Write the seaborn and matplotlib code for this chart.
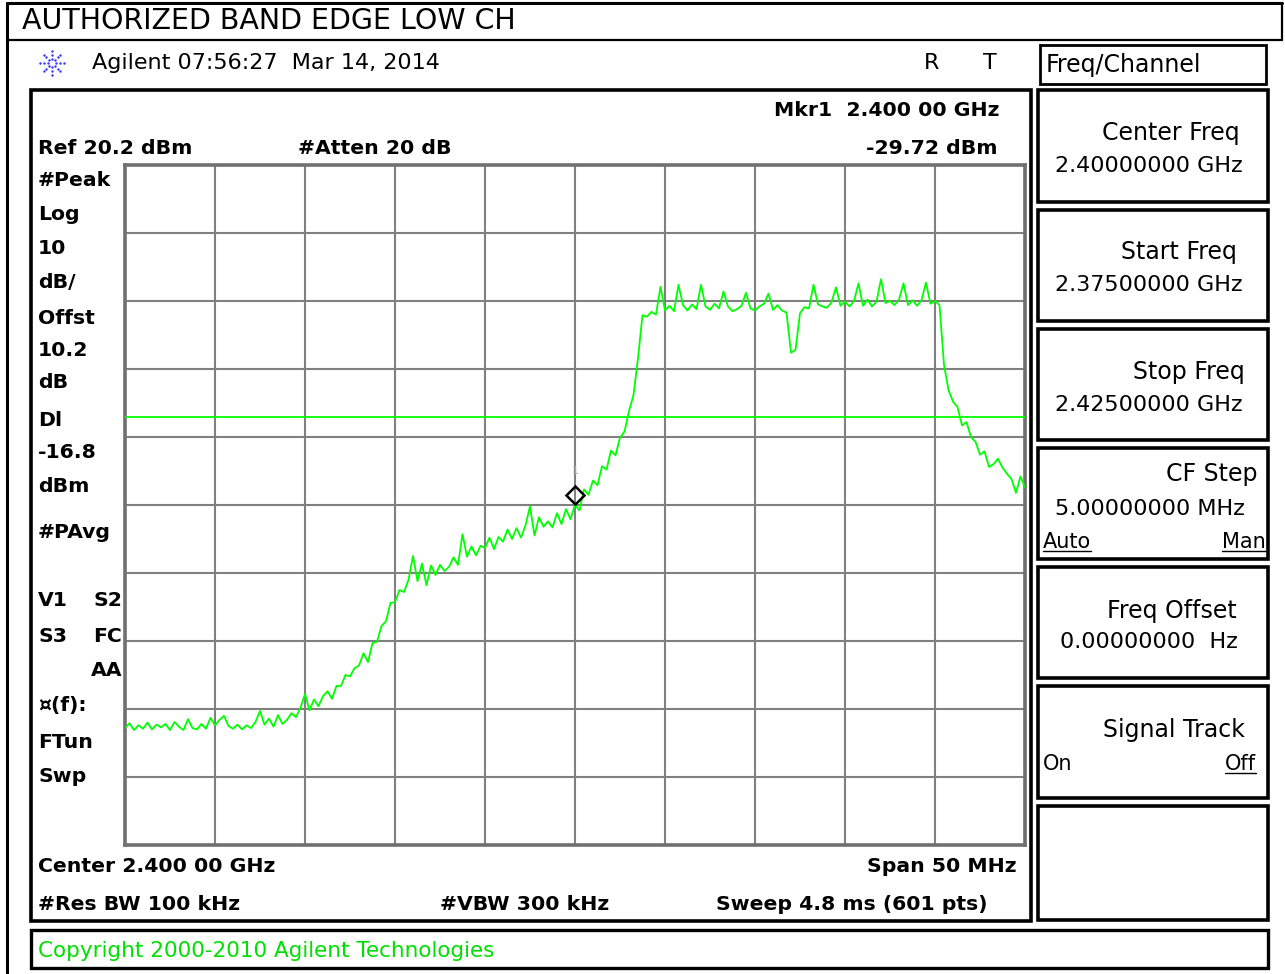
import numpy as np
import pandas as pd
import matplotlib
matplotlib.use("Agg")
import matplotlib.pyplot as plt
import matplotlib.transforms as mtransforms
from matplotlib.patches import Rectangle
import seaborn as sns

# ---------------- sweep settings ----------------
start_mhz = 2375.0
stop_mhz = 2425.0
ref_level_dbm = 20.2
db_per_div = 10.0
n_divs = 10
display_line_dbm = -16.8
marker_freq_mhz = 2400.0
marker_level_dbm = -29.72

# Peak trace (dBm), 201 samples evenly spread over the span
trace_dbm = [
    -62.6, -61.9, -62.9, -62.2,  -62.7, -61.8, -62.8, -62.1,
    -62.5, -62.0, -62.9, -61.7,  -62.4, -62.9, -61.3, -62.6,
    -62.8, -62.0, -62.7, -61.1,  -62.2, -61.4, -60.8, -62.3,
    -62.7, -62.1, -62.8, -62.2,  -62.6, -61.7, -60.1, -62.1,
    -61.2, -62.4, -60.7, -62.0,  -61.4, -60.4, -61.0, -59.6,
    -57.6, -60.0, -58.4, -59.4,  -57.9, -57.2, -58.3, -56.4,
    -56.4, -54.8, -55.0, -53.8,  -53.4, -51.6, -52.9, -50.1,
    -49.9, -47.6, -46.9, -44.2,  -44.1, -42.3, -42.6, -40.8,
    -37.3, -41.0, -38.4, -41.6,  -38.7, -40.1, -38.6, -39.5,
    -38.9, -37.5, -38.6, -34.1,  -37.4, -35.9, -37.2, -35.8,
    -36.1, -34.6, -36.3, -34.5,  -35.2, -33.4, -34.8, -33.2,
    -34.6, -32.8, -30.0, -34.3,  -31.6, -33.0, -32.2, -33.1,
    -31.0, -32.6, -30.4, -31.9,  -29.72, -30.6, -27.5, -28.3,
    -26.2, -26.9, -24.1, -24.6,  -21.8, -22.5, -19.9, -19.0,
    -16.0, -13.6, -8.2, -1.9,    -2.1, -1.4, -1.8, 2.3,
    -1.2, -0.5, -1.3, 2.6,       -0.4, -1.2, -0.3, -1.0,
    2.6, -0.6, -1.1, -0.2,       -0.9, 1.6, -0.6, -1.3,
    -1.0, -0.5, 1.4, -0.9,       -1.2, -0.6, -0.2, 1.3,
    -1.1, -0.4, -1.2, -1.5,      -7.4, -7.0, -1.6, -0.7,
    -0.9, 2.6, -0.3, -0.6,       -0.8, 0.0, 2.2, -0.5,
    0.1, -0.6, 0.2, 2.8,         -0.5, 0.4, -0.6, 0.1,
    3.4, -0.1, 0.2, -0.4,        0.4, 2.8, -0.4, 0.3,
    -0.5, 0.3, 2.9, -0.2,        0.2, -0.4, -9.2, -12.9,
    -14.6, -15.4, -18.1, -17.6,  -19.8, -20.5, -22.4, -21.9,
    -24.2, -23.8, -23.0, -24.3,  -25.2, -26.0, -28.0, -25.6,
    -27.2,
]
freq_mhz = np.linspace(start_mhz, stop_mhz, len(trace_dbm))

# ---------------- screen texts ----------------
title_text = "AUTHORIZED BAND EDGE LOW CH"
header_text = "Agilent 07:56:27  Mar 14, 2014"
status_flags = ["R", "T"]
marker_line1 = "Mkr1  2.400 00 GHz"
marker_line2 = "-29.72 dBm"
ref_text = "Ref 20.2 dBm"
atten_text = "#Atten 20 dB"
left_labels = ["#Peak", "Log", "10", "dB/", "Offst", "10.2", "dB",
               "Dl", "-16.8", "dBm", "#PAvg", "V1", "S3", "\u00a4(f):",
               "FTun", "Swp"]
left_right_labels = ["S2", "FC", "AA"]
center_text = "Center 2.400 00 GHz"
span_text = "Span 50 MHz"
rbw_text = "#Res BW 100 kHz"
vbw_text = "#VBW 300 kHz"
sweep_text = "Sweep 4.8 ms (601 pts)"
menu_title = "Freq/Channel"
key_titles = ["Center Freq", "Start Freq", "Stop Freq", "CF Step",
              "Freq Offset", "Signal Track"]
key_values = ["2.40000000 GHz", "2.37500000 GHz", "2.42500000 GHz",
              "5.00000000 MHz", "0.00000000  Hz", ""]
copyright_text = "Copyright 2000-2010 Agilent Technologies"

# ---------------- figure ----------------
sns.set_theme(style="white")
plt.rcParams["font.family"] = ["DejaVu Sans"]

W, H = 1285, 974
fig = plt.figure(figsize=(W / 100, H / 100), dpi=100)
fig.patch.set_facecolor("white")

# pixel-space overlay for frames and annotation text
bg = fig.add_axes([0, 0, 1, 1])
bg.set_xlim(0, W)
bg.set_ylim(H, 0)
bg.axis("off")


def box(x0, y0, x1, y1, lw=2.4, color="black"):
    bg.add_patch(Rectangle((x0, y0), x1 - x0, y1 - y0, fill=False,
                           lw=lw, edgecolor=color, zorder=3))


def txt(x, y, s, ha="left", size=14.7, weight="bold", color="black", **kw):
    return bg.text(x, y, s, ha=ha, va="center", fontsize=size,
                   fontweight=weight, color=color, **kw)


# title strip
bg.plot([7, 1282], [3, 3], color="black", lw=2.2)
bg.plot([7, 1282], [40, 40], color="black", lw=1.6)
bg.plot([7, 7], [3, 974], color="black", lw=2.2)
bg.plot([1282, 1282], [3, 40], color="black", lw=1.6)
txt(22, 21, title_text, size=20.5, weight="normal")

# Agilent starburst logo
for ang in np.arange(0, 360, 45):
    r = np.array([4.0, 8.0, 12.0])
    bg.scatter(52 + r * np.cos(np.radians(ang)), 63 + r * np.sin(np.radians(ang)),
               s=3, color="#3030ff", lw=0, zorder=4)
txt(92, 63, header_text, size=16, weight="normal")
txt(932, 63, status_flags[0], ha="center", size=16, weight="normal")
txt(990, 63, status_flags[1], ha="center", size=16, weight="normal")

# main screen frame and annotations
box(31, 90, 1031, 921, lw=2.6)
txt(1000, 110, marker_line1, ha="right")
txt(998, 148, marker_line2, ha="right")
txt(38, 148, ref_text)
txt(298, 148, atten_text)

left_y = [180, 214, 248, 283, 318, 350, 382, 420, 453, 487, 532,
          601, 636, 706, 742, 777]
for s, y in zip(left_labels, left_y):
    txt(38, y, s)
for s, y in zip(left_right_labels, [601, 636, 671]):
    txt(122, y, s, ha="right")

txt(38, 866, center_text)
txt(1017, 866, span_text, ha="right")
txt(38, 905, rbw_text)
txt(440, 905, vbw_text)
txt(988, 905, sweep_text, ha="right")

# soft-key panel
box(1040, 45, 1266, 84, lw=2.0)
txt(1046, 65, menu_title, size=17, weight="normal")
key_tops = [90, 210, 329, 448, 567, 686, 806]
key_bottoms = [202, 321, 440, 559, 678, 798, 920]
for t, b in zip(key_tops, key_bottoms):
    box(1038, t, 1268, b, lw=2.6)
title_x = [1240, 1237, 1245, 1258, 1237, 1245]
title_dy = [43, 42, 43, 26, 44, 44]
value_x = [1055, 1055, 1055, 1055, 1060]
value_dy = [76, 75, 76, 61, 75]
for i, s in enumerate(key_titles):
    t = key_tops[i]
    txt(title_x[i], t + title_dy[i], s, ha="right", size=17, weight="normal")
    if key_values[i]:
        txt(value_x[i], t + value_dy[i], key_values[i], size=16, weight="normal")

underline_items = [
    txt(1043, 542, "Auto", size=15, weight="normal"),
    txt(1266, 542, "Man", ha="right", size=15, weight="normal"),
    txt(1256, 764, "Off", ha="right", size=15, weight="normal"),
]
txt(1043, 764, "On", size=15, weight="normal")

# copyright strip
box(31, 930, 1268, 968, lw=2.4)
txt(38, 951, copyright_text, size=15.5, weight="normal", color="#00e000")

# ---------------- graticule and trace ----------------
ax = fig.add_axes([125 / W, 1 - 845 / H, 900 / W, 680 / H])
ax.set_zorder(5)
ax.set_facecolor("white")
df = pd.DataFrame({"freq": freq_mhz, "level": trace_dbm})
sns.lineplot(data=df, x="freq", y="level", ax=ax, color="#00ff00",
             lw=1.3, estimator=None, sort=False, zorder=4)
ax.axhline(display_line_dbm, color="#00ff00", lw=1.3, zorder=3)

bottom_dbm = ref_level_dbm - db_per_div * n_divs
ax.set_xlim(start_mhz, stop_mhz)
ax.set_ylim(bottom_dbm, ref_level_dbm)
ax.set_xticks(np.linspace(start_mhz, stop_mhz, n_divs + 1))
ax.set_yticks(np.linspace(bottom_dbm, ref_level_dbm, n_divs + 1))
ax.grid(True, color="#808080", lw=1.5)
ax.set_axisbelow(True)
ax.tick_params(length=0, labelbottom=False, labelleft=False)
ax.set_xlabel("")
ax.set_ylabel("")
for sp in ax.spines.values():
    sp.set_visible(True)
    sp.set_color("#707070")
    sp.set_linewidth(2.6)

# marker 1: diamond sits just above the measured point
mk_tr = mtransforms.offset_copy(ax.transData, fig=fig, x=0, y=9.5, units="dots")
ax.plot([marker_freq_mhz], [marker_level_dbm], marker="D", ms=9, mfc="none",
        mec="black", mew=1.8, transform=mk_tr, zorder=6)
lbl_tr = mtransforms.offset_copy(ax.transData, fig=fig, x=0, y=33, units="dots")
ax.text(marker_freq_mhz, marker_level_dbm, "1", transform=lbl_tr, ha="center",
        va="center", fontsize=8, color="#a8a8a8", zorder=6)

# underline the active soft-key choices
fig.canvas.draw()
inv = bg.transData.inverted()
for t in underline_items:
    bb = t.get_window_extent()
    (x0, y0), (x1, y1) = inv.transform([[bb.x0, bb.y0], [bb.x1, bb.y1]])
    bg.plot([x0, x1], [y0 - 1, y0 - 1], color="black", lw=1.0)

fig.savefig("out.png", dpi=100, facecolor="white")
